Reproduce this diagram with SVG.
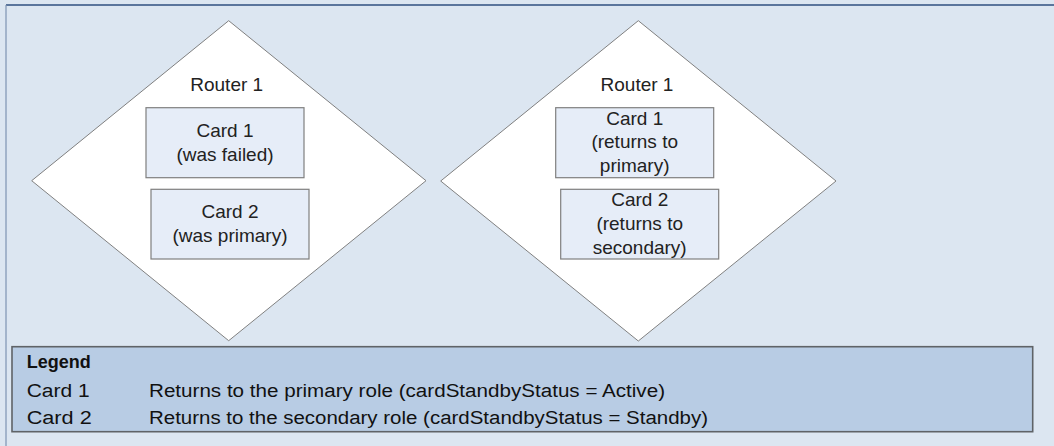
<svg xmlns="http://www.w3.org/2000/svg" width="1054" height="446" viewBox="0 0 1054 446">
<style>
.bg{fill:#dce6f1}
.router{fill:#ffffff;stroke:#808080;stroke-width:1}
.card{fill:#e6edf8;stroke:#7f7f7f;stroke-width:1.2}
.t{font-family:"Liberation Sans",Arial,sans-serif;font-size:19px;fill:#222;text-anchor:middle}
.lg{font-family:"Liberation Sans",Arial,sans-serif;font-size:18px;fill:#111}
.lgb{font-family:"Liberation Sans",Arial,sans-serif;font-size:18px;font-weight:bold;fill:#111}
</style>
<rect class="bg" x="0" y="0" width="1054" height="446"/>
<rect x="6" y="5" width="1060" height="450" fill="#dce6f1" stroke="none"/>
<line x1="6" y1="5" x2="1054" y2="5" stroke="#2f4f7f" stroke-width="1.5"/>
<line x1="6" y1="5" x2="6" y2="446" stroke="#7d93b2" stroke-width="1.2"/>
<g id="connectors"></g>
<g id="router-left">
<polygon class="router" points="228.7,20.7 426,180.7 228.7,340.7 31.7,180.7"/>
<text class="t" x="226.7" y="91">Router 1</text>
</g>
<g id="card1-left">
<rect class="card" x="146" y="107.7" width="158" height="70"/>
<text class="t" x="225" y="137">Card 1</text>
<text class="t" x="225" y="161">(was failed)</text>
</g>
<g id="card2-left">
<rect class="card" x="151" y="189.3" width="158" height="69.7"/>
<text class="t" x="230" y="218.3">Card 2</text>
<text class="t" x="230" y="242">(was primary)</text>
</g>
<g id="router-right">
<polygon class="router" points="638.3,20.7 836,181 638.3,341 440.7,181"/>
<text class="t" x="637" y="91">Router 1</text>
</g>
<g id="card1-right">
<rect class="card" x="555.7" y="107.7" width="158" height="70"/>
<text class="t" x="634.7" y="124.5">Card 1</text>
<text class="t" x="634.7" y="148.3">(returns to</text>
<text class="t" x="634.7" y="172">primary)</text>
</g>
<g id="card2-right">
<rect class="card" x="560.7" y="189.3" width="158" height="69.7"/>
<text class="t" x="639.7" y="206">Card 2</text>
<text class="t" x="639.7" y="230">(returns to</text>
<text class="t" x="639.7" y="254">secondary)</text>
</g>
<g id="legend">
<rect x="12" y="346.7" width="1020.7" height="85" fill="#b8cce4" stroke="#5f6367" stroke-width="1.6"/>
<text class="lgb" x="26.7" y="368">Legend</text>
<text class="lg" x="26.7" y="396.5" textLength="63" lengthAdjust="spacingAndGlyphs">Card 1</text>
<text class="lg" x="149" y="396.5" textLength="516" lengthAdjust="spacingAndGlyphs">Returns to the primary role (cardStandbyStatus = Active)</text>
<text class="lg" x="26.7" y="424" textLength="65" lengthAdjust="spacingAndGlyphs">Card 2</text>
<text class="lg" x="149" y="424" textLength="559" lengthAdjust="spacingAndGlyphs">Returns to the secondary role (cardStandbyStatus = Standby)</text>
</g>
</svg>
